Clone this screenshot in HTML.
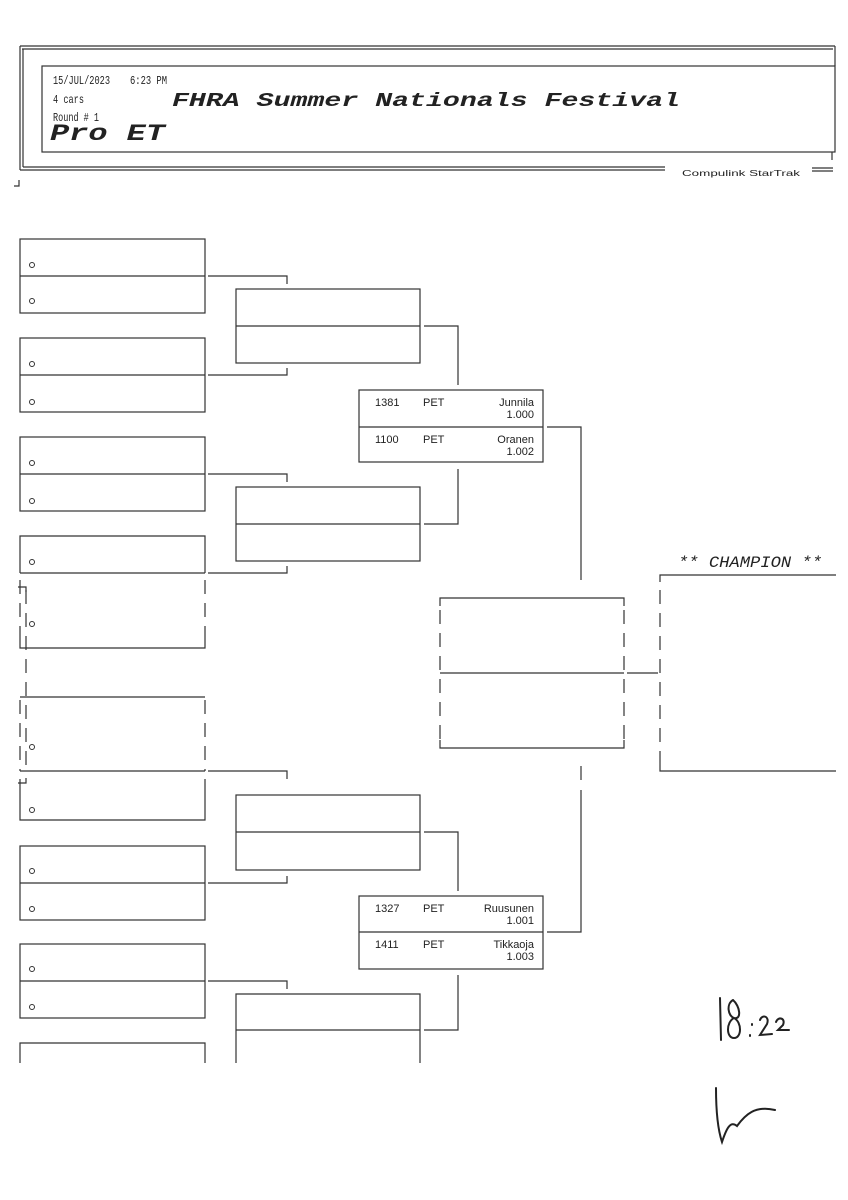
<!DOCTYPE html>
<html><head><meta charset="utf-8"><style>
html,body{margin:0;padding:0;background:#fff;}
svg{display:block;}
.m{font-family:"Liberation Mono",monospace;}
.s{font-family:"Liberation Sans",sans-serif;}
</style></head><body>
<svg width="848" height="1200" viewBox="0 0 848 1200" xmlns="http://www.w3.org/2000/svg">
<g stroke="#333" stroke-width="1.2" fill="none">
<line x1="20" y1="46" x2="835" y2="46"/><line x1="22" y1="49" x2="833" y2="49"/>
<line x1="20" y1="46" x2="20" y2="170"/><line x1="23" y1="49" x2="23" y2="167"/>
<line x1="835" y1="46" x2="835" y2="66"/>
<rect x="42" y="66" width="793" height="86"/>
<line x1="832" y1="152" x2="832" y2="160"/>
<line x1="20" y1="170" x2="665" y2="170"/><line x1="23" y1="167" x2="665" y2="167"/>
<line x1="812" y1="168" x2="833" y2="168"/><line x1="812" y1="171" x2="833" y2="171"/>
<path d="M19 180 L19 186 L14 186"/>

<rect x="20" y="239" width="185" height="74"/><line x1="20" y1="276" x2="205" y2="276"/>
<rect x="20" y="338" width="185" height="74"/><line x1="20" y1="375" x2="205" y2="375"/>
<rect x="20" y="437" width="185" height="74"/><line x1="20" y1="474" x2="205" y2="474"/>
<path d="M20 573 L20 536 L205 536 L205 573"/><line x1="20" y1="573" x2="205" y2="573"/>
<path d="M20 640 L20 648 L205 648 L205 640"/>
<path d="M20 697 L205 697"/><line x1="20" y1="771" x2="205" y2="771"/>
<path d="M20 779 L20 820 L205 820 L205 779"/>
<rect x="20" y="846" width="185" height="74"/><line x1="20" y1="883" x2="205" y2="883"/>
<rect x="20" y="944" width="185" height="74"/><line x1="20" y1="981" x2="205" y2="981"/>
<path d="M20 1063 L20 1043 L205 1043 L205 1063"/>
</g>
<g stroke="#333" stroke-width="1.2" fill="none" stroke-dasharray="14 9">
<line x1="205" y1="580" x2="205" y2="640"/>
<line x1="205" y1="700" x2="205" y2="771"/>
<line x1="20" y1="580" x2="20" y2="640"/>
<line x1="20" y1="700" x2="20" y2="771"/>
<line x1="26" y1="590" x2="26" y2="770"/>
<line x1="440" y1="610" x2="440" y2="748"/>
<line x1="624" y1="610" x2="624" y2="748"/>
<line x1="660" y1="590" x2="660" y2="771"/>
</g>
<g stroke="#333" stroke-width="1.2" fill="none">
<path d="M18 587 L26 587 L26 592"/><path d="M18 783 L26 783 L26 778"/>
<path d="M208 276 H287 V284"/><path d="M208 375 H287 V368"/>
<path d="M208 474 H287 V482"/><path d="M208 573 H287 V566"/>
<path d="M208 771 H287 V779"/><path d="M208 883 H287 V876"/>
<path d="M208 981 H287 V989"/>
<rect x="236" y="289" width="184" height="74"/><line x1="236" y1="326" x2="420" y2="326"/>
<rect x="236" y="487" width="184" height="74"/><line x1="236" y1="524" x2="420" y2="524"/>
<rect x="236" y="795" width="184" height="75"/><line x1="236" y1="832" x2="420" y2="832"/>
<path d="M236 1063 V994 H420 V1063"/><line x1="236" y1="1030" x2="420" y2="1030"/>
<path d="M424 326 H458 V385"/><path d="M424 524 H458 V469"/>
<path d="M424 832 H458 V891"/><path d="M424 1030 H458 V975"/>
<rect x="359" y="390" width="184" height="72"/><line x1="359" y1="427" x2="543" y2="427"/>
<rect x="359" y="896" width="184" height="73"/><line x1="359" y1="932" x2="543" y2="932"/>
<path d="M547 427 H581 V580"/><path d="M547 932 H581 V790"/>
<line x1="581" y1="766" x2="581" y2="780"/>
<path d="M440 606 V598 H624 V606"/><line x1="440" y1="673" x2="624" y2="673"/>
<path d="M440 740 V748 H624 V740"/>
<line x1="627" y1="673" x2="658" y2="673"/>
<path d="M660 582 V575 H836"/><path d="M660 765 V771 H836"/>
</g>
<g stroke="#222" stroke-width="2" fill="none" stroke-linecap="round">
<path d="M720 998 L721 1040"/>
<path d="M733 1000 C726 1004 728 1016 734 1018 C742 1020 740 1006 733 1000 M734 1018 C726 1022 726 1038 734 1038 C742 1038 742 1022 734 1018"/>
<path d="M750 1035 l0 1 M752 1024 l0 1"/>
<path d="M760 1020 C762 1014 770 1016 767 1024 L760 1035 L772 1034"/>
<path d="M776 1022 C778 1016 786 1018 783 1025 L778 1030 L789 1030"/>
<path d="M716 1088 C716 1110 718 1130 722 1142 C726 1130 730 1120 737 1126 C745 1115 755 1105 775 1110"/>
</g>
<g fill="#222">
<text class="m" x="53" y="84" font-size="12" textLength="57" lengthAdjust="spacingAndGlyphs">15/JUL/2023</text>
<text class="m" x="130" y="84" font-size="12" textLength="37" lengthAdjust="spacingAndGlyphs">6:23 PM</text>
<text class="m" x="53" y="103" font-size="12" textLength="31" lengthAdjust="spacingAndGlyphs">4 cars</text>
<text class="m" x="53" y="121" font-size="12" textLength="46" lengthAdjust="spacingAndGlyphs">Round # 1</text>
<text class="m" x="172" y="106" font-size="19" font-weight="bold" font-style="italic" textLength="508" lengthAdjust="spacingAndGlyphs">FHRA Summer Nationals Festival</text>
<text class="m" x="50" y="140" font-size="23" font-weight="bold" font-style="italic" textLength="115" lengthAdjust="spacingAndGlyphs">Pro ET</text>
<text class="s" x="682" y="176" font-size="8" textLength="118" lengthAdjust="spacingAndGlyphs">Compulink  StarTrak</text>
<text class="m" x="678" y="567" font-size="16" font-style="italic" textLength="144" lengthAdjust="spacingAndGlyphs">** CHAMPION **</text>
</g>
<g fill="none" stroke="#333" stroke-width="1">
<circle cx="32" cy="265" r="2.5"/><circle cx="32" cy="301" r="2.5"/>
<circle cx="32" cy="364" r="2.5"/><circle cx="32" cy="402" r="2.5"/>
<circle cx="32" cy="463" r="2.5"/><circle cx="32" cy="501" r="2.5"/>
<circle cx="32" cy="562" r="2.5"/><circle cx="32" cy="624" r="2.5"/>
<circle cx="32" cy="747" r="2.5"/><circle cx="32" cy="810" r="2.5"/>
<circle cx="32" cy="871" r="2.5"/><circle cx="32" cy="909" r="2.5"/>
<circle cx="32" cy="969" r="2.5"/><circle cx="32" cy="1007" r="2.5"/>
</g>
<g class="s" font-size="11" fill="#222">
<text x="375" y="406">1381</text><text x="423" y="406">PET</text>
<text x="534" y="406" text-anchor="end">Junnila</text><text x="534" y="418" text-anchor="end">1.000</text>
<text x="375" y="443">1100</text><text x="423" y="443">PET</text>
<text x="534" y="443" text-anchor="end">Oranen</text><text x="534" y="455" text-anchor="end">1.002</text>
<text x="375" y="912">1327</text><text x="423" y="912">PET</text>
<text x="534" y="912" text-anchor="end">Ruusunen</text><text x="534" y="924" text-anchor="end">1.001</text>
<text x="375" y="948">1411</text><text x="423" y="948">PET</text>
<text x="534" y="948" text-anchor="end">Tikkaoja</text><text x="534" y="960" text-anchor="end">1.003</text>
</g>
</svg>
</body></html>
